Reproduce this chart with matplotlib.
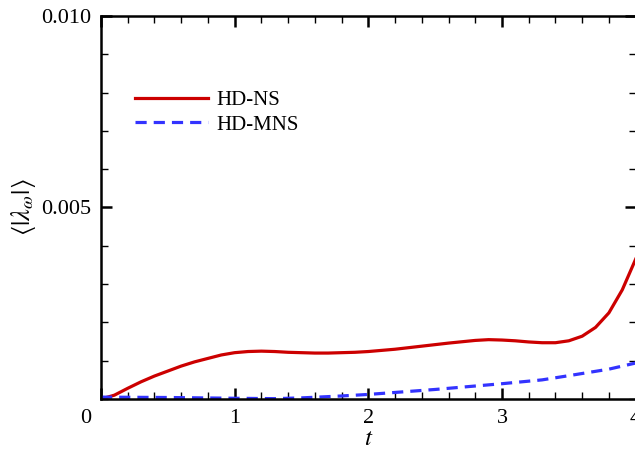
import matplotlib.pyplot as plt
import matplotlib.transforms as mtransforms
from matplotlib.ticker import MultipleLocator

plt.rcParams['font.family'] = ['Liberation Serif', 'DejaVu Serif']
plt.rcParams['mathtext.fontset'] = 'stix'

# HD-NS (solid red)
t_ns = [0.0, 0.1, 0.2, 0.3, 0.4, 0.5, 0.6, 0.7, 0.8, 0.9, 1.0, 1.1, 1.2, 1.3,
        1.4, 1.5, 1.6, 1.7, 1.8, 1.9, 2.0, 2.2, 2.4, 2.6, 2.8, 2.9, 3.0, 3.1,
        3.2, 3.3, 3.4, 3.5, 3.6, 3.7, 3.8, 3.9, 4.0]
lam_ns = [0.0, 0.10, 0.28, 0.45, 0.60, 0.73, 0.86, 0.97, 1.06, 1.15, 1.21,
          1.24, 1.25, 1.24, 1.22, 1.21, 1.20, 1.20, 1.21, 1.22, 1.24, 1.30,
          1.38, 1.46, 1.53, 1.55, 1.54, 1.52, 1.49, 1.47, 1.47, 1.52, 1.64,
          1.87, 2.25, 2.85, 3.65]

# HD-MNS (dashed blue)
t_mns = [0.0, 0.5, 1.0, 1.3, 1.5, 1.8, 2.0, 2.5, 3.0, 3.3, 3.5, 3.8, 4.0]
lam_mns = [0.05, 0.04, 0.02, 0.01, 0.03, 0.08, 0.12, 0.25, 0.40, 0.50, 0.61,
           0.78, 0.94]

fig = plt.figure(figsize=(6.35, 4.55), dpi=100)
ax = fig.add_axes([0.159, 0.123, 0.842, 0.842])

ax.plot(t_ns, [v * 1e-3 for v in lam_ns], color='#cc0000', lw=2.3, label='HD-NS')
ax.plot(t_mns, [v * 1e-3 for v in lam_mns], color='#3333ff', lw=2.3,
        dashes=(3.5, 2.2), label='HD-MNS')

ax.set_xlim(0, 4)
ax.set_ylim(0, 0.01)
ax.set_xticks([0, 1, 2, 3, 4])
ax.set_yticks([0.005, 0.010])
ax.set_yticklabels(['0.005', '0.010'])
ax.xaxis.set_minor_locator(MultipleLocator(0.2))
ax.yaxis.set_minor_locator(MultipleLocator(0.001))
ax.tick_params(which='both', direction='in', top=True, right=True,
               labelsize=16, pad=7)
ax.tick_params(which='major', length=8, width=1.8)
ax.tick_params(which='minor', length=5, width=1)
for s in ax.spines.values():
    s.set_linewidth(1.8)

# the "0" label sits left of the origin in the original
lbl0 = ax.get_xticklabels()[0]
lbl0.set_transform(lbl0.get_transform() +
                   mtransforms.ScaledTranslation(-0.15, 0, fig.dpi_scale_trans))

ax.set_xlabel('$t$', fontsize=18, labelpad=0)
ax.set_ylabel(r'$\langle|\lambda_\omega|\rangle$', fontsize=19, labelpad=2)

ax.legend(loc='upper left', bbox_to_anchor=(0.028, 0.855), frameon=False,
          fontsize=15, handlelength=3.5, handletextpad=0.4, labelspacing=0.25)

fig.savefig('out.png', dpi=100)
